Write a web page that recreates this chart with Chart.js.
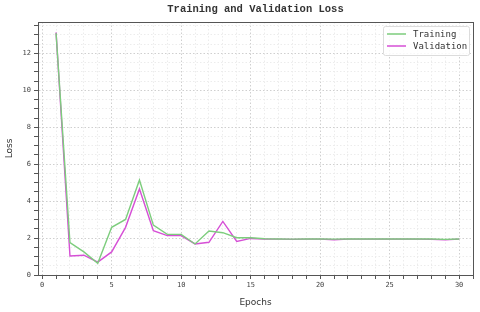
<!DOCTYPE html>
<html>
<head>
<meta charset="utf-8">
<script src="https://cdn.jsdelivr.net/npm/chart.js@4/dist/chart.umd.min.js"></script>
<style>
  html, body { margin: 0; padding: 0; background: #fff; }
  #wrap { width: 480px; height: 312px; }
</style>
</head>
<body>
<div id="wrap"><canvas id="lossChart" width="480" height="312"></canvas></div>
<script>
const epochs = [1, 2, 3, 4, 5, 6, 7, 8, 9, 10, 11, 12, 13, 14, 15, 16, 17, 18, 19, 20, 21, 22, 23, 24, 25, 26, 27, 28, 29, 30];
const trainingLoss = [13.1, 1.75, 1.25, 0.63, 2.58, 3.01, 5.14, 2.7, 2.2, 2.2, 1.68, 2.38, 2.29, 2.02, 2.02, 1.96, 1.95, 1.94, 1.95, 1.95, 1.94, 1.95, 1.95, 1.95, 1.95, 1.95, 1.95, 1.95, 1.93, 1.95];
const validationLoss = [13.14, 1.03, 1.07, 0.7, 1.25, 2.58, 4.66, 2.4, 2.13, 2.13, 1.68, 1.77, 2.9, 1.82, 1.98, 1.95, 1.94, 1.93, 1.94, 1.94, 1.91, 1.94, 1.94, 1.94, 1.94, 1.94, 1.94, 1.93, 1.9, 1.94];
const seriesNames = ['Training', 'Validation'];
const seriesColors = ['#7dcd7d', '#d64fd6'];

const majorGrid = '#cfcfcf';
const minorGrid = '#ececec';
const mono = "'DejaVu Sans Mono', monospace";

function isMajor(value, step) {
  return Math.abs(value / step - Math.round(value / step)) < 1e-6;
}

// title + frame + legend drawn inside the plot like matplotlib
const extras = {
  id: 'extras',
  afterDraw(chart) {
    const { ctx, chartArea: a } = chart;
    ctx.save();
    ctx.strokeStyle = '#555';
    ctx.lineWidth = 1;
    ctx.strokeRect(Math.round(a.left) + 0.5, Math.round(a.top) + 0.5, Math.round(a.right - a.left), Math.round(a.bottom - a.top));

    ctx.fillStyle = '#333';
    ctx.font = "bold 10.5px 'Liberation Mono', monospace";
    ctx.textAlign = 'center';
    ctx.textBaseline = 'middle';
    ctx.fillText('Training and Validation Loss', (a.left + a.right) / 2, 9);

    const bx = a.right - 90, by = a.top + 4, bw = 86, bh = 29;
    ctx.fillStyle = 'rgba(255,255,255,0.85)';
    ctx.strokeStyle = '#dcdcdc';
    ctx.beginPath();
    ctx.roundRect(bx + 0.5, by + 0.5, bw, bh, 2);
    ctx.fill();
    ctx.stroke();
    ctx.font = '9px ' + mono;
    ctx.textAlign = 'left';
    seriesNames.forEach((name, i) => {
      const y = by + 8 + i * 12;
      ctx.strokeStyle = seriesColors[i];
      ctx.lineWidth = 1.5;
      ctx.beginPath();
      ctx.moveTo(bx + 4, y);
      ctx.lineTo(bx + 23, y);
      ctx.stroke();
      ctx.fillStyle = '#333';
      ctx.fillText(name, bx + 30, y + 0.5);
    });
    ctx.restore();
  }
};

new Chart(document.getElementById('lossChart'), {
  type: 'line',
  data: {
    labels: epochs,
    datasets: [
      { label: seriesNames[0], data: epochs.map((e, i) => ({ x: e, y: trainingLoss[i] })), borderColor: seriesColors[0], borderWidth: 1.4, pointRadius: 0, tension: 0 },
      { label: seriesNames[1], data: epochs.map((e, i) => ({ x: e, y: validationLoss[i] })), borderColor: seriesColors[1], borderWidth: 1.4, pointRadius: 0, tension: 0 }
    ]
  },
  options: {
    responsive: false,
    animation: false,
    layout: { padding: { top: 22, right: 7, left: 0, bottom: 0 } },
    plugins: { legend: { display: false }, title: { display: false }, tooltip: { enabled: false } },
    scales: {
      x: {
        type: 'linear',
        min: -0.3,
        max: 31,
        afterFit: (scale) => { scale.height = 37; },
        ticks: {
          stepSize: 1,
          includeBounds: false,
          autoSkip: false,
          maxRotation: 0,
          padding: 2,
          color: '#444',
          font: { family: mono, size: 7 },
          callback: (v) => (isMajor(v, 5) ? String(v) : '')
        },
        grid: {
          color: (c) => (c.tick && isMajor(c.tick.value, 5) ? majorGrid : minorGrid),
          tickColor: '#555',
          tickLength: 4
        },
        border: { color: '#555', dash: [1.5, 2] },
        title: { display: true, text: 'Epochs', color: '#333', font: { family: "'DejaVu Sans', sans-serif", size: 9 }, padding: { top: 0, bottom: 4 } }
      },
      y: {
        min: 0,
        max: 13.7,
        afterFit: (scale) => { scale.width = 38; },
        ticks: {
          stepSize: 0.5,
          includeBounds: false,
          autoSkip: false,
          padding: 3,
          color: '#444',
          font: { family: mono, size: 7 },
          callback: (v) => (isMajor(v, 2) ? String(v) : '')
        },
        grid: {
          color: (c) => (c.tick && isMajor(c.tick.value, 2) ? majorGrid : minorGrid),
          tickColor: '#555',
          tickLength: 4
        },
        border: { color: '#555', dash: [1.5, 2] },
        title: { display: true, text: 'Loss', color: '#333', font: { family: "'DejaVu Sans', sans-serif", size: 9 }, padding: { top: 4, bottom: 0 } }
      }
    }
  },
  plugins: [extras]
});
</script>
</body>
</html>
